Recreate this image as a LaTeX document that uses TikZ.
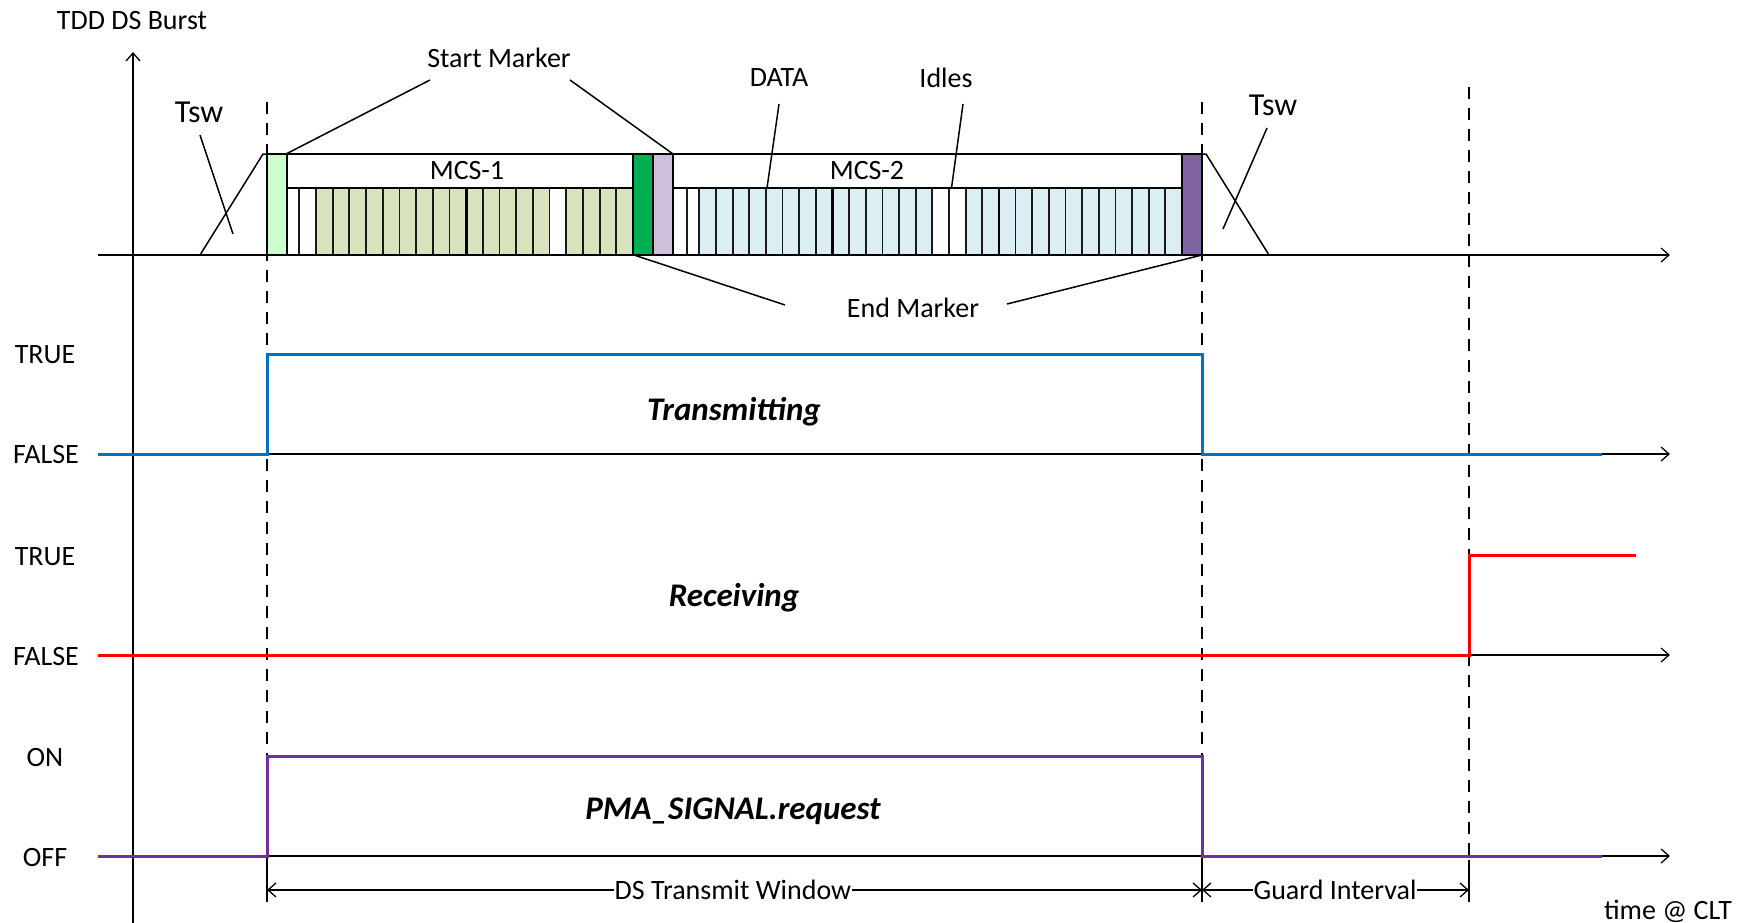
\documentclass[tikz,border=0pt]{standalone}
\usepackage{fontspec}
\setmainfont{Carlito}
\usetikzlibrary{arrows.meta}
\definecolor{lgreen}{HTML}{CCFFCC}
\definecolor{dgreen}{HTML}{00B050}
\definecolor{lav}{HTML}{CCC0DA}
\definecolor{purp}{HTML}{8064A2}
\definecolor{cellg}{HTML}{D7E4BD}
\definecolor{cellb}{HTML}{DAEEF3}
\definecolor{sigblue}{HTML}{0070C0}
\definecolor{sigred}{HTML}{FF0000}
\definecolor{sigpurp}{HTML}{7030A0}
\begin{document}
\begin{tikzpicture}[x=1pt,y=-1pt,
  lbl/.style={font=\fontsize{28}{32}\selectfont, inner sep=0pt},
  big/.style={font=\fontsize{32}{36}\selectfont, inner sep=0pt},
  sig/.style={font=\fontsize{33}{37}\selectfont\bfseries\itshape, inner sep=0pt},
  barb/.tip={Straight Barb[length=8pt,width=14pt,line width=1.3pt]},
  axis/.style={line width=1.3pt, -barb},
  ptr/.style={line width=1.5pt},
  vdash/.style={line width=1.5pt, dash pattern=on 12pt off 9pt},
  divider/.style={line width=1.8pt, black!90},
  thickdiv/.style={line width=2.8pt},
  thickb/.style={line width=2.8pt},
  thinb/.style={line width=1.5pt},
  siglvl/.style={line width=3pt},
  dim/.style={line width=1.3pt, barb-barb},
  dimlbl/.style={lbl, fill=white, inner xsep=1pt, inner ysep=2pt}
]
\useasboundingbox (0,0) rectangle (1750,923);

% ---------- axes ----------
\coordinate (yb) at (133,923);
\coordinate (yt) at (133,52);
\draw[axis] (yb) -- (yt);
\node[lbl] (tdd) at (132,21) {TDD DS Burst};

\foreach \y/\n in {255/a0,454/a1,655/a2,856/a3}{
  \coordinate (\n s) at (98,\y);
  \coordinate (\n e) at (1670,\y);
  \draw[axis] (\n s) -- (\n e);
}

% ---------- dashed verticals ----------
\coordinate (d1t) at (267,102); \coordinate (d1b) at (267,902);
\coordinate (d2t) at (1202,102); \coordinate (d2b) at (1202,902);
\coordinate (d3t) at (1469,87); \coordinate (d3b) at (1469,902);
\draw[vdash] (d1t) -- (d1b);
\draw[vdash] (d2t) -- (d2b);
\draw[vdash] (d3t) -- (d3b);

% ---------- burst: ramps ----------
\coordinate (rl0) at (200,255); \coordinate (rl1) at (263,154); \coordinate (rl2) at (267,154);
\draw[ptr] (rl0) -- (rl1) -- (rl2);
\coordinate (rr0) at (1202,154); \coordinate (rr1) at (1206,154); \coordinate (rr2) at (1269,255);
\draw[ptr] (rr0) -- (rr1) -- (rr2);

% ---------- MCS-1 cells ----------
\fill[cellg] (316,188) rectangle (633,255);
\fill[white] (287,188) rectangle (316,255);
\fill[white] (549.6,188) rectangle (566.3,255);
\draw[divider] (299,188) -- (299,255);
\draw[divider] (316,188) -- (316,255);
\foreach \k in {1,...,18}{
  \draw[divider] ({316+\k*16.684},188) -- ({316+\k*16.684},255);
}
\draw[thickdiv] ({316+9*16.684},188) -- ({316+9*16.684},255);
\draw[thinb, fill=white] (287,154) rectangle (633,188);
\draw[thickb] (287,188) -- (633,188);
\node[lbl] (mcs1) at (467,171) {MCS-1};

% ---------- MCS-2 cells ----------
\fill[cellb] (699.3,188) rectangle (1182,255);
\fill[white] (673,188) rectangle (699.3,255);
\fill[white] (932.3,188) rectangle (965.6,255);
\draw[divider] (687,188) -- (687,255);
\draw[divider] (699.3,188) -- (699.3,255);
\foreach \k in {1,...,28}{
  \draw[divider] ({699.3+\k*16.645},188) -- ({699.3+\k*16.645},255);
}
\draw[thickdiv] ({699.3+8*16.645},188) -- ({699.3+8*16.645},255);
\draw[thickdiv] ({699.3+18*16.645},188) -- ({699.3+18*16.645},255);
\draw[thinb, fill=white] (673,154) rectangle (1182,188);
\draw[thickb] (673,188) -- (1182,188);
\node[lbl] (mcs2) at (867,171) {MCS-2};

\draw[thickb] (267,255) -- (1202,255);

% ---------- markers ----------
\draw[thickb, fill=lgreen] (267,154) rectangle (287,255);
\draw[thickb, fill=dgreen] (633,154) rectangle (653,255);
\draw[thinb, fill=lav] (653,154) rectangle (673,255);
\draw[thickb] (653,154) -- (653,255);
\draw[thickb, fill=purp] (1182,154) rectangle (1202,255);

% ---------- labels & pointers ----------
\node[big] (tswl) at (199,112) {Tsw};
\coordinate (tswl1) at (200,135); \coordinate (tswl2) at (233,234);
\draw[ptr] (tswl1) -- (tswl2);
\node[big] (tswr) at (1273,105) {Tsw};
\coordinate (tswr1) at (1267,128); \coordinate (tswr2) at (1223,229);
\draw[ptr] (tswr1) -- (tswr2);

\node[lbl] (sm) at (499,58) {Start Marker};
\coordinate (sm1) at (430,80); \coordinate (sm1e) at (286,154);
\coordinate (sm2) at (570,80); \coordinate (sm2e) at (673,154);
\draw[ptr] (sm1) -- (sm1e);
\draw[ptr] (sm2) -- (sm2e);

\node[lbl] (data) at (779,78) {DATA};
\coordinate (data1) at (779,104); \coordinate (data2) at (767,188);
\draw[ptr] (data1) -- (data2);
\node[lbl] (idles) at (946,78) {Idles};
\coordinate (idl1) at (963,104); \coordinate (idl2) at (951.5,188);
\draw[ptr] (idl1) -- (idl2);

\node[lbl] (em) at (913,308) {End Marker};
\coordinate (em1) at (634,255); \coordinate (em1e) at (785,305);
\coordinate (em2) at (1202,255); \coordinate (em2e) at (1007,304);
\draw[ptr] (em1) -- (em1e);
\draw[ptr] (em2) -- (em2e);

% ---------- level labels ----------
\node[lbl] at (45,355) {TRUE};
\node[lbl] at (46,455) {FALSE};
\node[lbl] at (45,557) {TRUE};
\node[lbl] at (46,657) {FALSE};
\node[lbl] at (45,758) {ON};
\node[lbl] at (45,858) {OFF};

% ---------- signals ----------
\draw[siglvl, sigblue] (98,454) -- (267,454) -- (267,354) -- (1202,354) -- (1202,454) -- (1602,454);
\node[sig] (tx) at (734,412) {Transmitting};
\draw[siglvl, sigred] (98,655) -- (1469,655) -- (1469,555) -- (1636,555);
\node[sig] (rx) at (734,598) {Receiving};
\draw[siglvl, sigpurp] (98,856) -- (267,856) -- (267,756) -- (1202,756) -- (1202,856) -- (1602,856);
\node[sig] (pma) at (733,811) {PMA\_SIGNAL.request};

% ---------- dimensions ----------
\draw[line width=1.3pt] (267,860) -- (267,902);
\draw[line width=1.3pt] (1202,860) -- (1202,902);
\draw[line width=1.3pt] (1469,860) -- (1469,902);
\coordinate (w1) at (267,890); \coordinate (w2) at (1202,890); \coordinate (w3) at (1469,890);
\draw[dim] (w1) -- (w2);
\draw[dim] (w2) -- (w3);
\node[dimlbl] (dsw) at (733,890) {DS Transmit Window};
\node[dimlbl] (gi) at (1335,890) {Guard Interval};
\node[lbl] (clt) at (1668,911) {time @ CLT};
\end{tikzpicture}
\end{document}
